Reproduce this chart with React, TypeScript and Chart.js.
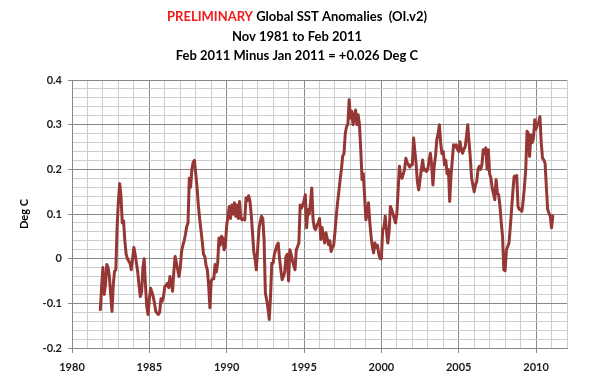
import React, { useEffect, useRef } from "react";
import { Chart, registerables } from "chart.js";

Chart.register(...registerables);

// ---- Data (monthly global SST anomalies, Deg C, Nov 1981 .. Feb 2011) ----
const START_YEAR = 1981;
const START_MONTH = 11;

const sst1981 = [-0.114, -0.06];
const sst1982 = [-0.02, -0.08, -0.058, -0.013, -0.02, -0.04, -0.08, -0.118, -0.06, -0.028, -0.025, 0.07];
const sst1983 = [0.13, 0.168, 0.14, 0.08, 0.085, 0.04, 0.01, 0.0, -0.005, -0.01, -0.025, 0.0];
const sst1984 = [0.025, 0.01, -0.01, -0.03, -0.06, -0.085, -0.075, -0.02, 0.0, -0.06, -0.107, -0.125];
const sst1985 = [-0.09, -0.066, -0.075, -0.085, -0.1, -0.118, -0.122, -0.125, -0.12, -0.09, -0.095, -0.085];
const sst1986 = [-0.062, -0.06, -0.055, -0.065, -0.04, -0.055, -0.073, -0.03, 0.005, -0.01, -0.025, -0.04];
const sst1987 = [-0.02, 0.016, 0.03, 0.04, 0.054, 0.072, 0.08, 0.18, 0.16, 0.2, 0.216, 0.22];
const sst1988 = [0.19, 0.16, 0.12, 0.09, 0.065, 0.04, 0.01, 0.005, -0.015, -0.025, -0.06, -0.11];
const sst1989 = [-0.05, -0.045, -0.045, -0.013, -0.03, -0.01, 0.046, 0.03, 0.05, 0.046, 0.02, 0.03];
const sst1990 = [0.075, 0.095, 0.117, 0.09, 0.12, 0.1, 0.125, 0.095, 0.12, 0.09, 0.128, 0.09];
const sst1991 = [0.087, 0.09, 0.087, 0.136, 0.13, 0.141, 0.13, 0.1, 0.06, 0.016, 0.0, -0.025];
const sst1992 = [0.02, 0.065, 0.083, 0.095, 0.09, 0.043, -0.077, -0.092, -0.11, -0.136, -0.085, -0.01];
const sst1993 = [-0.01, 0.01, 0.02, 0.03, 0.035, 0.0, -0.025, -0.047, -0.04, -0.03, 0.005, 0.01];
const sst1994 = [-0.05, 0.02, 0.01, -0.005, -0.015, -0.025, 0.02, 0.027, 0.035, 0.12, 0.113, 0.12];
const sst1995 = [0.13, 0.143, 0.069, 0.11, 0.1, 0.125, 0.158, 0.087, 0.069, 0.065, 0.075, 0.08];
const sst1996 = [0.09, 0.043, 0.07, 0.05, 0.035, 0.058, 0.045, 0.031, 0.04, 0.016, 0.025, 0.03];
const sst1997 = [0.06, 0.095, 0.125, 0.15, 0.177, 0.2, 0.23, 0.235, 0.28, 0.296, 0.3, 0.356];
const sst1998 = [0.315, 0.33, 0.3, 0.318, 0.333, 0.3, 0.322, 0.3, 0.244, 0.177, 0.19, 0.14];
const sst1999 = [0.087, 0.1, 0.125, 0.083, 0.05, 0.027, 0.013, 0.035, 0.025, 0.03, 0.01, 0.0];
const sst2000 = [0.0, 0.065, 0.07, 0.095, 0.06, 0.035, 0.06, 0.117, 0.11, 0.1, 0.09, 0.08];
const sst2001 = [0.1, 0.154, 0.207, 0.184, 0.18, 0.19, 0.2, 0.225, 0.215, 0.21, 0.205, 0.21];
const sst2002 = [0.21, 0.27, 0.24, 0.21, 0.17, 0.154, 0.177, 0.2, 0.221, 0.198, 0.2, 0.195];
const sst2003 = [0.2, 0.221, 0.236, 0.21, 0.165, 0.207, 0.23, 0.266, 0.28, 0.3, 0.259, 0.235];
const sst2004 = [0.24, 0.21, 0.22, 0.19, 0.2, 0.128, 0.184, 0.22, 0.255, 0.25, 0.255, 0.245];
const sst2005 = [0.24, 0.262, 0.245, 0.236, 0.245, 0.25, 0.273, 0.3, 0.262, 0.225, 0.18, 0.165];
const sst2006 = [0.15, 0.165, 0.173, 0.2, 0.207, 0.2, 0.21, 0.244, 0.235, 0.248, 0.2, 0.244];
const sst2007 = [0.19, 0.18, 0.158, 0.145, 0.132, 0.177, 0.147, 0.143, 0.117, 0.08, 0.05, -0.025];
const sst2008 = [-0.027, 0.02, 0.027, 0.035, 0.07, 0.11, 0.15, 0.184, 0.185, 0.186, 0.117, 0.11];
const sst2009 = [0.11, 0.106, 0.13, 0.162, 0.2, 0.285, 0.28, 0.229, 0.277, 0.26, 0.27, 0.311];
const sst2010 = [0.29, 0.3, 0.305, 0.318, 0.26, 0.225, 0.221, 0.214, 0.16, 0.11, 0.102, 0.095];
const sst2011 = [0.069, 0.095];

const anomalies: number[] = [
  ...sst1981, ...sst1982, ...sst1983, ...sst1984, ...sst1985, ...sst1986,
  ...sst1987, ...sst1988, ...sst1989, ...sst1990, ...sst1991, ...sst1992,
  ...sst1993, ...sst1994, ...sst1995, ...sst1996, ...sst1997, ...sst1998,
  ...sst1999, ...sst2000, ...sst2001, ...sst2002, ...sst2003, ...sst2004,
  ...sst2005, ...sst2006, ...sst2007, ...sst2008, ...sst2009, ...sst2010,
  ...sst2011,
];

const X_MIN = 1980;
const X_MAX = 2012;
const Y_MIN = -0.2;
const Y_MAX = 0.4;

const titleRed = "PRELIMINARY";
const titleRest = " Global SST Anomalies  (OI.v2)";
const titleLine2 = "Nov 1981 to Feb 2011";
const titleLine3 = "Feb 2011 Minus Jan 2011 = +0.026 Deg C";
const yAxisTitle = "Deg C";

const FONT_FAMILY = 'Lato, "Open Sans", "DejaVu Sans", sans-serif';
const MAJOR_GRID = "#888888";
const MINOR_GRID = "#cdcdcd";
const LINE_COLOR = "#953735";

const isMajorX = (v: number) => Math.abs(v / 5 - Math.round(v / 5)) < 1e-6;
const isMajorY = (v: number) => Math.abs(v * 10 - Math.round(v * 10)) < 1e-6;

const titlePlugin = {
  id: "multiTitle",
  afterDraw(chart: any) {
    const ctx = chart.ctx;
    ctx.save();
    ctx.font = `bold 13px ${FONT_FAMILY}`;
    ctx.textBaseline = "middle";
    const cx = 297;
    const w1 = ctx.measureText(titleRed).width;
    const w2 = ctx.measureText(titleRest).width;
    const x0 = cx - (w1 + w2) / 2;
    ctx.textAlign = "left";
    ctx.fillStyle = "#f01a1a";
    ctx.fillText(titleRed, x0, 17);
    ctx.fillStyle = "#000000";
    ctx.fillText(titleRest, x0 + w1, 17);
    ctx.textAlign = "center";
    ctx.fillText(titleLine2, cx, 37);
    ctx.fillText(titleLine3, cx, 56);
    ctx.restore();
  },
};

export default function App() {
  const canvasRef = useRef<HTMLCanvasElement | null>(null);

  useEffect(() => {
    document.body.style.margin = "0";
    const canvas = canvasRef.current;
    if (!canvas) return;
    const points = anomalies.map((v, i) => ({
      x: START_YEAR + (START_MONTH - 1 + i) / 12,
      y: v,
    }));
    const tickFont = { family: FONT_FAMILY, size: 11, weight: "bold" as const };
    const chart = new Chart(canvas, {
      type: "line",
      data: {
        datasets: [
          {
            data: points,
            borderColor: LINE_COLOR,
            borderWidth: 3,
            borderJoinStyle: "round",
            borderCapStyle: "round",
            pointRadius: 0,
            tension: 0,
            fill: false,
          },
        ],
      },
      options: {
        animation: false,
        responsive: false,
        maintainAspectRatio: false,
        layout: { padding: { left: 0, right: 28, top: 80, bottom: 0 } },
        plugins: {
          legend: { display: false },
          tooltip: { enabled: false },
          title: { display: false },
        },
        scales: {
          x: {
            type: "linear",
            min: X_MIN,
            max: X_MAX,
            afterFit: (s: any) => {
              s.height = 43;
            },
            ticks: {
              stepSize: 1,
              autoSkip: false,
              maxRotation: 0,
              padding: 8,
              color: "#1a1a1a",
              font: tickFont,
              callback: (v: any) => (isMajorX(Number(v)) ? String(v) : ""),
            },
            grid: {
              color: (c: any) => (isMajorX(c.tick.value) ? MAJOR_GRID : MINOR_GRID),
              tickColor: (c: any) => (isMajorX(c.tick.value) ? MAJOR_GRID : "rgba(0,0,0,0)"),
              tickLength: 5,
              lineWidth: 1,
            },
            border: { color: MAJOR_GRID },
          },
          y: {
            min: Y_MIN,
            max: Y_MAX,
            afterFit: (s: any) => {
              s.width = 72;
            },
            ticks: {
              stepSize: 0.02,
              autoSkip: false,
              padding: 6,
              color: "#1a1a1a",
              font: tickFont,
              callback: (v: any) => {
                const n = Number(v);
                if (!isMajorY(n)) return "";
                const r = Math.round(n * 10) / 10;
                return r === 0 ? "0" : r.toFixed(1);
              },
            },
            grid: {
              color: (c: any) => (isMajorY(c.tick.value) ? MAJOR_GRID : MINOR_GRID),
              tickColor: (c: any) => (isMajorY(c.tick.value) ? MAJOR_GRID : "rgba(0,0,0,0)"),
              tickLength: 4,
              lineWidth: 1,
            },
            border: { color: MAJOR_GRID },
            title: {
              display: true,
              text: yAxisTitle,
              color: "#000000",
              font: { family: FONT_FAMILY, size: 11, weight: "bold" },
              padding: { top: 18, bottom: 0 },
            },
          },
        },
      },
      plugins: [titlePlugin],
    });
    return () => chart.destroy();
  }, []);

  return (
    <div style={{ position: "absolute", left: 0, top: 0, width: 595, height: 391, background: "#ffffff" }}>
      <canvas ref={canvasRef} width={595} height={391} style={{ width: 595, height: 391 }} />
    </div>
  );
}
